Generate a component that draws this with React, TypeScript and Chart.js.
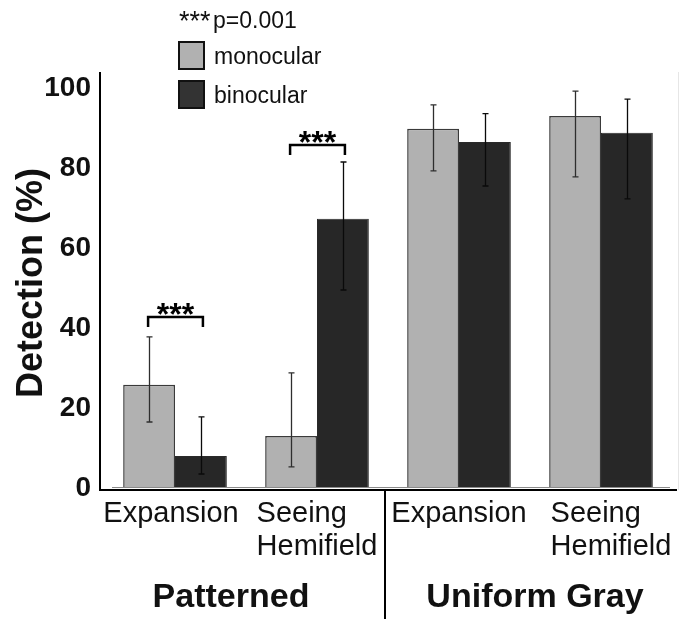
import React, { useEffect, useRef } from "react";
import { Chart, registerables } from "chart.js";

Chart.register(...registerables);

const categories: string[][] = [["Expansion"], ["Seeing", "Hemifield"], ["Expansion"], ["Seeing", "Hemifield"]];
const groupNames = ["Patterned", "Uniform Gray"];
const seriesNames = ["monocular", "binocular"];
const monoValues = [25.8, 13.0, 89.8, 93.0];
const monoLow = [16.5, 5.3, 79.3, 77.8];
const monoHigh = [37.8, 28.8, 95.8, 99.2];
const binoValues = [8.0, 67.3, 86.5, 88.8];
const binoLow = [3.5, 49.5, 75.5, 72.3];
const binoHigh = [17.8, 81.5, 93.6, 97.2];
const sigCategories = [0, 1];
const sigLevels = [42.75, 85.75];
const sigLabel = "***";
const pLabel = "p=0.001";
const yTicks = [0, 20, 40, 60, 80, 100];
const yTitle = "Detection (%)";

const FONT = "'Liberation Sans', Arial, Helvetica, sans-serif";
const MONO_COLOR = "#b1b1b1";
const BINO_COLOR = "#272727";
const LABEL_SHIFT = [-4, 0, 0, 10];

const overlay = {
  id: "overlay",
  afterDatasetsDraw(chart: any) {
    const ctx = chart.ctx;
    const xs = chart.scales.x;
    const ys = chart.scales.y;
    const area = chart.chartArea;
    ctx.save();

    // faint right frame
    ctx.strokeStyle = "#e6e6e6";
    ctx.lineWidth = 1;
    ctx.beginPath();
    ctx.moveTo(area.right + 6.5, area.top);
    ctx.lineTo(area.right + 6.5, area.bottom + 2);
    ctx.stroke();

    // gray zero baseline
    ctx.strokeStyle = "#8a8a8a";
    ctx.lineWidth = 1;
    ctx.beginPath();
    ctx.moveTo(area.left + 8, ys.getPixelForValue(0) - 0.5);
    ctx.lineTo(area.right - 2, ys.getPixelForValue(0) - 0.5);
    ctx.stroke();

    // axes
    ctx.strokeStyle = "#000";
    ctx.lineWidth = 2;
    ctx.beginPath();
    ctx.moveTo(area.left - 4, area.top);
    ctx.lineTo(area.left - 4, area.bottom + 3);
    ctx.moveTo(area.left - 5, area.bottom + 2);
    ctx.lineTo(area.right + 5, area.bottom + 2);
    ctx.stroke();

    // error bars
    const lows = [monoLow, binoLow];
    const highs = [monoHigh, binoHigh];
    for (let d = 0; d < 2; d++) {
      const meta = chart.getDatasetMeta(d);
      meta.data.forEach((bar: any, j: number) => {
        const x = Math.round(bar.x) + 0.5;
        const yl = ys.getPixelForValue(lows[d][j]);
        const yh = ys.getPixelForValue(highs[d][j]);
        ctx.strokeStyle = d === 0 ? "#2e2e2e" : "#0a0a0a";
        ctx.lineWidth = 1.3;
        ctx.beginPath();
        ctx.moveTo(x, yl);
        ctx.lineTo(x, yh);
        ctx.moveTo(x - 3, yl);
        ctx.lineTo(x + 3, yl);
        ctx.moveTo(x - 3, yh);
        ctx.lineTo(x + 3, yh);
        ctx.stroke();
      });
    }

    // significance brackets
    sigCategories.forEach((c, k) => {
      const x1 = chart.getDatasetMeta(0).data[c].x - 1;
      const x2 = chart.getDatasetMeta(1).data[c].x + 2;
      const yTop = ys.getPixelForValue(sigLevels[k]);
      const yLeg = yTop + 10;
      ctx.strokeStyle = "#000";
      ctx.lineWidth = 2.5;
      ctx.beginPath();
      ctx.moveTo(x1, yLeg);
      ctx.lineTo(x1, yTop);
      ctx.lineTo(x2, yTop);
      ctx.lineTo(x2, yLeg);
      ctx.stroke();
      ctx.fillStyle = "#000";
      ctx.font = `bold 32px ${FONT}`;
      ctx.textAlign = "center";
      ctx.textBaseline = "alphabetic";
      ctx.fillText(sigLabel, (x1 + x2) / 2, yTop + 8);
    });

    // category labels
    ctx.fillStyle = "#111";
    ctx.font = `29px ${FONT}`;
    ctx.textBaseline = "alphabetic";
    ctx.textAlign = "left";
    categories.forEach((lines, i) => {
      const cx = xs.getPixelForValue(i) + LABEL_SHIFT[i];
      const w = Math.max(...lines.map((l) => ctx.measureText(l).width));
      const left = cx - w / 2;
      lines.forEach((l, li) => {
        ctx.fillText(l, left, area.bottom + 34 + li * 33);
      });
    });

    // separator
    const sepX = (xs.getPixelForValue(1) + xs.getPixelForValue(2)) / 2 - 3;
    ctx.strokeStyle = "#000";
    ctx.lineWidth = 2;
    ctx.beginPath();
    ctx.moveTo(sepX, area.bottom + 3);
    ctx.lineTo(sepX, chart.height);
    ctx.stroke();

    // group labels
    ctx.font = `bold 34px ${FONT}`;
    ctx.textAlign = "center";
    ctx.fillStyle = "#111";
    const g0 = (xs.getPixelForValue(0) + xs.getPixelForValue(1)) / 2 - 15;
    const g1 = (xs.getPixelForValue(2) + xs.getPixelForValue(3)) / 2 + 5;
    ctx.fillText(groupNames[0], g0, area.bottom + 119);
    ctx.fillText(groupNames[1], g1, area.bottom + 119);

    // y title
    ctx.save();
    ctx.translate(32, (area.top + area.bottom) / 2 + 3);
    ctx.rotate(-Math.PI / 2);
    ctx.font = `bold 36px ${FONT}`;
    ctx.textAlign = "center";
    ctx.textBaseline = "middle";
    ctx.fillStyle = "#111";
    ctx.fillText(yTitle, 0, 0);
    ctx.restore();

    // legend
    ctx.textAlign = "left";
    ctx.textBaseline = "alphabetic";
    ctx.fillStyle = "#111";
    ctx.font = `27px ${FONT}`;
    ctx.fillText(sigLabel, 179, 30);
    ctx.font = `23px ${FONT}`;
    ctx.fillText(pLabel, 213, 28);
    const boxes = [
      { y: 42, color: MONO_COLOR },
      { y: 81, color: "#333" },
    ];
    boxes.forEach((b, i) => {
      ctx.fillStyle = b.color;
      ctx.fillRect(179, b.y, 25, 27);
      ctx.strokeStyle = "#111";
      ctx.lineWidth = 2;
      ctx.strokeRect(179, b.y, 25, 27);
      ctx.fillStyle = "#111";
      ctx.font = `23px ${FONT}`;
      ctx.fillText(seriesNames[i], 214, b.y + 22);
    });

    ctx.restore();
  },
};

export default function App() {
  const ref = useRef<HTMLCanvasElement>(null);
  useEffect(() => {
    if (!ref.current) return;
    const chart = new Chart(ref.current, {
      type: "bar",
      data: {
        labels: categories.map((c) => c.join(" ")),
        datasets: [
          {
            label: seriesNames[0],
            data: monoValues,
            backgroundColor: MONO_COLOR,
            borderColor: "#3a3a3a",
            borderWidth: 1.5,
            categoryPercentage: 0.73,
            barPercentage: 1,
          },
          {
            label: seriesNames[1],
            data: binoValues,
            backgroundColor: BINO_COLOR,
            borderColor: "#2a2a2a",
            borderWidth: 1,
            categoryPercentage: 0.73,
            barPercentage: 1,
          },
        ],
      },
      options: {
        animation: false,
        responsive: true,
        maintainAspectRatio: false,
        layout: { padding: { top: 72, right: 16, left: 0, bottom: 0 } },
        plugins: {
          legend: { display: false },
          tooltip: { enabled: false },
          title: { display: false },
        },
        scales: {
          x: {
            grid: { display: false, drawTicks: false },
            border: { display: false },
            ticks: { display: false },
            afterFit: (s: any) => {
              s.height = 131;
            },
          },
          y: {
            min: 0,
            max: 104,
            grid: { display: false, drawTicks: false },
            border: { display: false },
            afterBuildTicks: (s: any) => {
              s.ticks = yTicks.map((v) => ({ value: v }));
            },
            ticks: {
              padding: 13,
              color: "#111",
              font: { family: FONT, size: 28, weight: "bold" },
            },
            afterFit: (s: any) => {
              s.width = 104;
            },
          },
        },
      },
      plugins: [overlay],
    });
    return () => chart.destroy();
  }, []);
  return (
    <div style={{ position: "absolute", left: 0, top: 0, width: 688, height: 619, background: "#fff" }}>
      <canvas ref={ref} />
    </div>
  );
}
